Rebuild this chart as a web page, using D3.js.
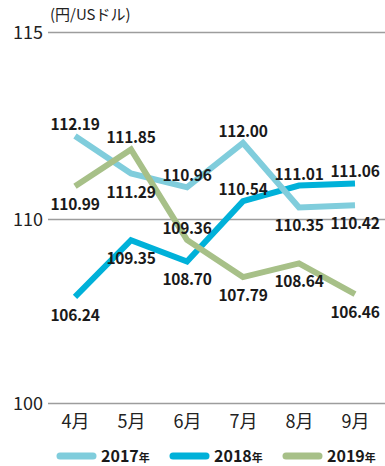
<!DOCTYPE html>
<html><head><meta charset="utf-8">
<script src="https://cdn.jsdelivr.net/npm/d3@7/dist/d3.min.js"></script>
<style>
body{margin:0;background:#fff;}
svg{display:block;font-family:"Noto Sans CJK JP","Noto Sans",sans-serif;}
</style></head>
<body><svg id="c" width="385" height="466"></svg>
<script>
const months = ["4月","5月","6月","7月","8月","9月"];
const years = ["2017","2018","2019"];
const v2017 = [112.19,111.29,110.96,112.00,110.35,110.42];
const v2018 = [106.24,109.35,108.70,110.54,111.01,111.06];
const v2019 = [110.99,111.85,109.36,107.79,108.64,106.46];
const yTicks = [100,110,115];
const unitLabel = "(円/USドル)";

const colors = {"2017":"#80cddc","2018":"#00b1d9","2019":"#a7c088"};
const labelSide = {"2017":["a","b","a","a","b","b"],"2018":["b","b","b","a","a","a"],"2019":["b","a","a","b","b","b"]};
const series = [
  {year:"2018", values:v2018},
  {year:"2017", values:v2017},
  {year:"2019", values:v2019}
];

const svg = d3.select("#c");
const x = d3.scalePoint().domain(months).range([75,355]);
// broken (piecewise) value axis as in the original artwork
const y = d3.scaleLinear().domain([100,106,108.5,110,111,112,115]).range([403,300,268,219,186,143,32]);

// grid + y axis
const ya = svg.append("g").attr("transform","translate(48,0)")
  .call(d3.axisLeft(y).tickValues(yTicks).tickSize(-337).tickPadding(5).tickFormat(d3.format("d")));
ya.select(".domain").remove();
ya.selectAll(".tick line").attr("stroke","#9d9d9d").attr("stroke-width",1.5);
ya.selectAll(".tick text").attr("font-size",18).attr("fill","#222").attr("font-family","'Noto Sans CJK JP',sans-serif").attr("dy","0.36em");

svg.append("text").attr("x",50).attr("y",20).attr("font-size",15).attr("fill","#222").text(unitLabel);

// x axis labels
const xa = svg.append("g").attr("transform","translate(0,403)")
  .call(d3.axisBottom(x).tickSize(0).tickPadding(12));
xa.select(".domain").remove();
xa.selectAll(".tick text").attr("font-size",18).attr("fill","#222").attr("font-family","'Noto Sans CJK JP',sans-serif");

// lines
const line = d3.line().x((d,i)=>x(months[i])).y(d=>y(d));
series.forEach(s=>{
  svg.append("path").datum(s.values).attr("d",line)
    .attr("fill","none").attr("stroke",colors[s.year]).attr("stroke-width",6)
    .attr("stroke-linejoin","miter").attr("stroke-linecap","butt");
});

// value labels
series.forEach(s=>{
  svg.append("g").selectAll("text").data(s.values).join("text")
    .attr("x",(d,i)=>x(months[i]))
    .attr("y",(d,i)=> y(d) + (labelSide[s.year][i]==="a" ? -6 : 24))
    .attr("text-anchor","middle").attr("font-size",15.5).attr("font-weight","bold")
    .attr("fill","#1a1a1a").attr("letter-spacing","-0.3")
    .text(d=>d3.format(".2f")(d));
});

// legend
const lx = d3.scalePoint().domain(years).range([60,286]);
const lg = svg.append("g");
years.forEach(yr=>{
  const x0 = lx(yr);
  lg.append("line").attr("x1",x0).attr("x2",x0+33).attr("y1",456).attr("y2",456)
    .attr("stroke",colors[yr]).attr("stroke-width",7).attr("stroke-linecap","round");
  const t = lg.append("text").attr("x",x0+41).attr("y",462).attr("font-weight","bold").attr("fill","#1a1a1a");
  t.append("tspan").attr("font-size",16).text(yr);
  t.append("tspan").attr("font-size",11).text("年");
});
</script></body></html>
